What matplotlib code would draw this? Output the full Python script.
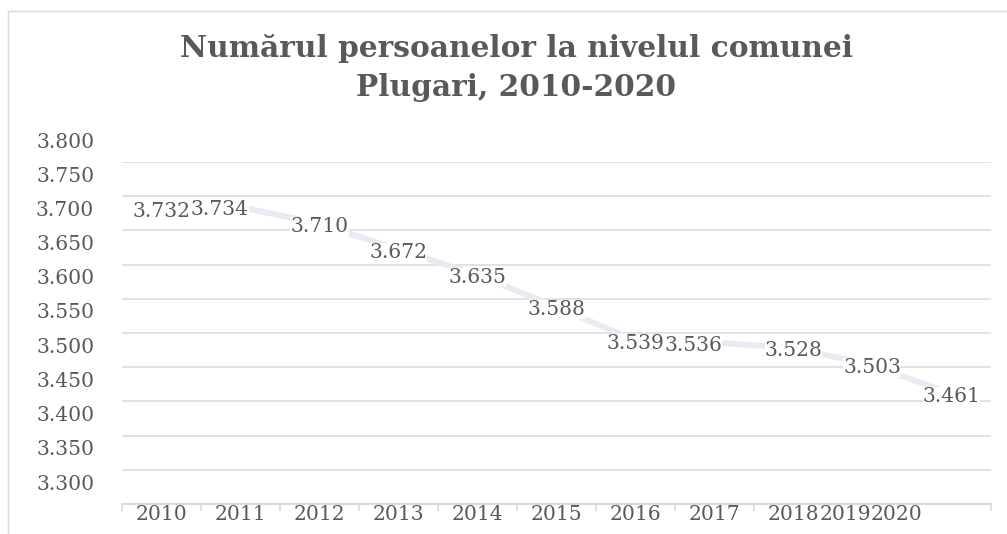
import matplotlib
matplotlib.use('Agg')
import matplotlib.pyplot as plt
import numpy as np
from matplotlib.transforms import ScaledTranslation
from matplotlib.patches import Rectangle
from matplotlib.ticker import FixedLocator, FuncFormatter

# ---- data ----
years = ['2010', '2011', '2012', '2013', '2014', '2015',
         '2016', '2017', '2018', '2019', '2020']
population = [3732, 3734, 3710, 3672, 3635, 3588, 3539, 3536, 3528, 3503, 3461]
y_ticks = [3300, 3350, 3400, 3450, 3500, 3550, 3600, 3650, 3700, 3750, 3800]
title = 'Numărul persoanelor la nivelul comunei\nPlugari, 2010-2020'

# ---- style ----
W, H = 1007, 534
DPI = 100
TXT = '#595959'
GRID = '#E2E2E2'
LINE = '#E8ECF2'
FONT = 'DejaVu Serif'
FS = 14.6
plt.rcParams['font.family'] = [FONT]

def fmt(v):
    return f'{v/1000:.3f}'

fig = plt.figure(figsize=(W / DPI, H / DPI), dpi=DPI)
fig.patch.set_facecolor('white')

# chart-area border (cut at right/bottom like reference)
fig.add_artist(Rectangle((8 / W, 1 - 700 / H), 1200 / W, (700 - 11) / H,
                         transform=fig.transFigure, fill=False,
                         edgecolor='#D9D9D9', lw=1.0))

ax_l, ax_r, ax_t, ax_b = 122, 991, 162, 504
ax = fig.add_axes([ax_l / W, 1 - ax_b / H, (ax_r - ax_l) / W, (ax_b - ax_t) / H])

x = np.arange(len(years))
ax.plot(x, population, color=LINE, lw=4.3, solid_joinstyle='round',
        solid_capstyle='round', zorder=2)

ax.set_xlim(-0.5, len(years) - 0.5)
ax.set_ylim(y_ticks[0], y_ticks[-1])

# y axis
ax.yaxis.set_major_locator(FixedLocator(y_ticks))
ax.yaxis.set_major_formatter(FuncFormatter(lambda v, p: fmt(v)))
ax.tick_params(axis='y', length=0, pad=20, labelsize=FS, labelcolor=TXT)
ax.yaxis.grid(True, color=GRID, lw=1.4, zorder=0)
ax.set_axisbelow(True)

# x axis: boundary ticks (major, no labels) + category labels (minor)
hidden = {len(years) - 3 + 0.5, len(years) - 2 + 0.5}
bounds = [b for b in np.arange(-0.5, len(years), 1.0) if b not in hidden]
ax.xaxis.set_major_locator(FixedLocator(bounds))
ax.xaxis.set_major_formatter(FuncFormatter(lambda v, p: ''))
ax.xaxis.set_minor_locator(FixedLocator(list(x)))
ax.set_xticklabels(years, minor=True)
ax.tick_params(axis='x', which='major', length=5, width=1.2, color='#D9D9D9',
               direction='out')
ax.tick_params(axis='x', which='minor', length=0, pad=1, labelsize=FS,
               labelcolor=TXT)

for s in ['top', 'right', 'left']:
    ax.spines[s].set_visible(False)
ax.spines['bottom'].set_color('#D9D9D9')
ax.spines['bottom'].set_linewidth(1.4)

# y tick labels are drawn above their gridlines in the reference
yoff = ScaledTranslation(0, 22 / DPI, fig.dpi_scale_trans)
for lab in ax.get_yticklabels():
    lab.set_transform(lab.get_transform() + yoff)

# data labels
anns = []
for xi, v in zip(x, population):
    a = ax.annotate(fmt(v), (xi, v), xytext=(0, -2), textcoords='offset points',
                    ha='center', va='center', fontsize=FS, color=TXT, zorder=3,
                    bbox=dict(boxstyle='square,pad=0.0', fc='white', ec='none'))
    anns.append(a)

# title (anchored at baseline of its last line)
t1 = fig.text(516 / W, 1 - 96 / H, title, ha='center', va='baseline',
              fontsize=20, fontweight='bold', color=TXT, linespacing=1.45)

fig.canvas.draw()
r = fig.canvas.get_renderer()

# fit title width to reference
first_line = title.split('\n')[0]
probe = fig.text(0, 0, first_line, fontsize=20, fontweight='bold')
wpx = probe.get_window_extent(r).width
probe.remove()
t1.set_fontsize(20 * 674 / wpx)

# abutting labels (as rendered in reference)
abut_data = [1, 7]
for i in abut_data:
    prev = anns[i - 1].get_window_extent(r)
    cur = anns[i].get_window_extent(r)
    dx = prev.x1 - cur.x0
    anns[i].xyann = (dx * 72 / DPI, -2)

fig.canvas.draw()
xlabs = ax.xaxis.get_minorticklabels()
abut_x = [9, 10]
for i in abut_x:
    fig.canvas.draw()
    prev = xlabs[i - 1].get_window_extent(r)
    cur = xlabs[i].get_window_extent(r)
    dx = prev.x1 - cur.x0
    xlabs[i].set_transform(xlabs[i].get_transform() +
                           ScaledTranslation(dx / DPI, 0, fig.dpi_scale_trans))

fig.savefig('out.png', dpi=DPI)
